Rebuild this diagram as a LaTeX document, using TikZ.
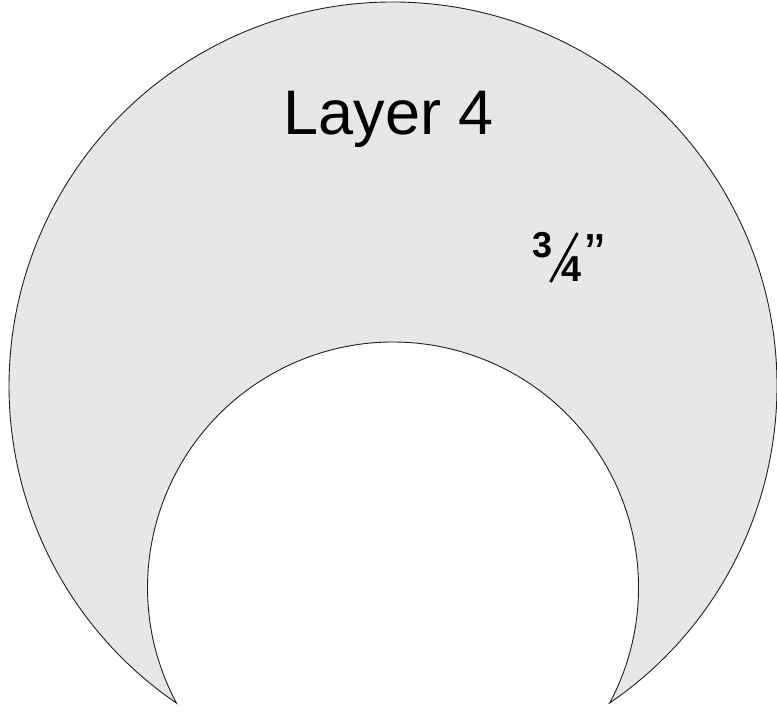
\documentclass[tikz,border=0pt]{standalone}
\usepackage{fontspec}
\setmainfont{Liberation Sans}
\definecolor{shapefill}{HTML}{E6E7E7}
\definecolor{shapeline}{HTML}{231F20}
\tikzset{
  crescent/.style={fill=shapefill, draw=shapeline, line width=0.9pt, line join=miter},
  title/.style={inner sep=0pt, anchor=base, text=black, font=\fontsize{63}{63}\selectfont},
  fracdigit/.style={inner sep=0pt, anchor=base, text=black, font=\bfseries\fontsize{36}{36}\selectfont},
  fracbar/.style={draw=black, line width=2.8pt},
}
\begin{document}
\begin{tikzpicture}[x=1pt,y=1pt]
\useasboundingbox (0,0) rectangle (777,713);
% crescent: outer circle centre (393,327) r 384, inner circle centre (393.5,125.5) r 245.5
\draw[crescent] (393,327) ++(-55.67:384)
  arc[start angle=-55.67, end angle=235.67, radius=384]
  arc[start angle=208.08, end angle=-28.08, radius=245.5] -- cycle;
\node[title] (layer) at (389,578) {Layer 4};
\node[fracdigit] (three) at (543,455) {3};
\node[fracdigit] (four) at (571.5,431) {4};
\coordinate (barlow) at (550.5,431);
\coordinate (barhigh) at (577.5,480);
\draw[fracbar] (barlow) -- (barhigh);
\node[inner sep=0pt, anchor=base, text=black, font=\fontsize{58}{58}\selectfont] (inch) at (595.5,438) {”};
\end{tikzpicture}
\end{document}
